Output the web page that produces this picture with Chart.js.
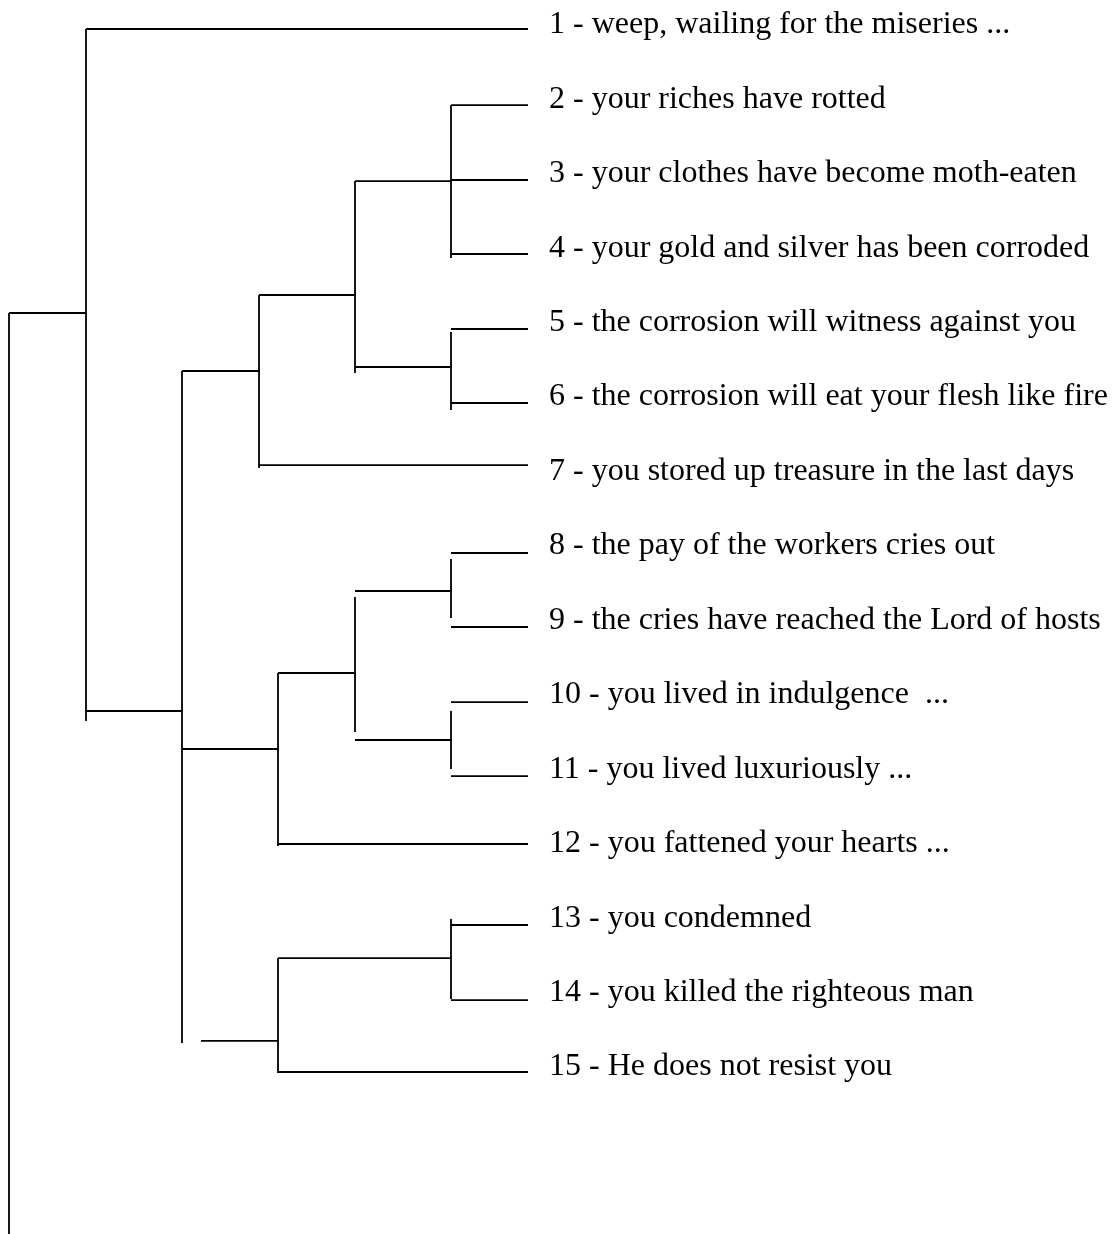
<!DOCTYPE html>
<html>
<head>
<meta charset="utf-8">
<script src="https://cdn.jsdelivr.net/npm/chart.js@4/dist/chart.umd.min.js"></script>
<style>
  html, body { margin: 0; padding: 0; background: #ffffff; }
  #wrap { width: 1114px; height: 1234px; }
</style>
</head>
<body>
<div id="wrap"><canvas id="c" width="1114" height="1234"></canvas></div>
<script>
// Leaf labels (top to bottom), leaf index 1..15
const leafLabels = [
  "1 - weep, wailing for the miseries ...",
  "2 - your riches have rotted",
  "3 - your clothes have become moth-eaten",
  "4 - your gold and silver has been corroded",
  "5 - the corrosion will witness against you",
  "6 - the corrosion will eat your flesh like fire",
  "7 - you stored up treasure in the last days",
  "8 - the pay of the workers cries out",
  "9 - the cries have reached the Lord of hosts",
  "10 - you lived in indulgence  ...",
  "11 - you lived luxuriously ...",
  "12 - you fattened your hearts ...",
  "13 - you condemned",
  "14 - you killed the righteous man",
  "15 - He does not resist you"
];
const leafIndex = [1,2,3,4,5,6,7,8,9,10,11,12,13,14,15];

// Horizontal branches: [leaf-axis position, height from, height to]
const hBranches = [
  [1.097, 442, 0],
  [2.118, 77, 0],
  [3.125, 77, 0],
  [4.119, 77, 0],
  [5.127, 77, 0],
  [6.121, 77, 0],
  [6.954, 269, 0],
  [8.136, 77, 0],
  [9.130, 77, 0],
  [10.138, 77, 0],
  [11.132, 77, 0],
  [12.045, 250, 0],
  [13.133, 77, 0],
  [14.141, 77, 0],
  [15.108, 250, 0],
  [3.139, 173, 77],
  [5.637, 173, 77],
  [4.670, 269, 173],
  [5.691, 346, 269],
  [10.258, 442, 346],
  [10.769, 346, 250],
  [9.748, 250, 173],
  [8.646, 173, 77],
  [10.648, 173, 77],
  [13.577, 250, 77],
  [14.691, 327, 250],
  [4.912, 519, 442]
];

// Vertical links: [height, leaf-axis from, leaf-axis to]
const vLinks = [
  [77, 2.118, 4.173],
  [173, 3.139, 5.718],
  [77, 5.167, 6.215],
  [269, 4.670, 6.994],
  [346, 5.691, 14.718],
  [442, 1.097, 10.393],
  [519, 4.912, 17.284],
  [250, 9.748, 12.072],
  [173, 8.727, 10.541],
  [77, 8.217, 9.009],
  [77, 10.258, 11.038],
  [77, 13.053, 14.127],
  [250, 13.577, 15.121]
];

const lineStyle = {
  showLine: true,
  borderColor: '#000000',
  backgroundColor: '#000000',
  borderWidth: 1.8,
  pointRadius: 0,
  pointHoverRadius: 0,
  fill: false,
  clip: false,
  tension: 0
};

const datasets = [];
hBranches.forEach(([y, h1, h2]) => {
  datasets.push(Object.assign({ data: [{x: h1, y: y}, {x: h2, y: y}] }, lineStyle));
});
vLinks.forEach(([h, y1, y2]) => {
  datasets.push(Object.assign({ data: [{x: h, y: y1}, {x: h, y: y2}] }, lineStyle));
});

new Chart(document.getElementById('c'), {
  type: 'scatter',
  data: { datasets },
  options: {
    responsive: false,
    animation: false,
    events: [],
    layout: { padding: 0 },
    plugins: { legend: { display: false }, tooltip: { enabled: false } },
    scales: {
      x: {
        type: 'linear',
        reverse: true,
        min: 0,
        max: 528,
        display: false
      },
      y: {
        type: 'linear',
        position: 'right',
        reverse: true,
        min: 0.7071,
        max: 17.284,
        grid: { display: false, drawTicks: false },
        border: { display: false },
        afterBuildTicks: (scale) => {
          scale.ticks = leafIndex.map(v => ({ value: v }));
        },
        afterFit: (scale) => {
          scale.width = 586;
          scale.paddingTop = 0;
          scale.paddingBottom = 0;
        },
        ticks: {
          autoSkip: false,
          maxRotation: 0,
          minRotation: 0,
          padding: 21,
          labelOffset: 3,
          color: '#000000',
          font: { family: '"Liberation Serif", "Times New Roman", serif', size: 32 },
          callback: (value) => {
            const i = leafIndex.indexOf(Math.round(value));
            return i >= 0 ? leafLabels[i] : '';
          }
        }
      }
    }
  }
});
</script>
</body>
</html>
